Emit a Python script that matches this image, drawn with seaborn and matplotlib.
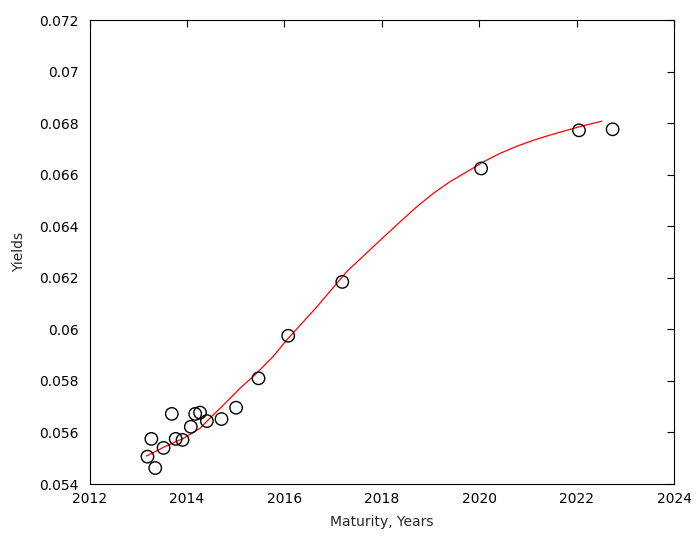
import matplotlib
matplotlib.use("Agg")
import matplotlib.pyplot as plt
import seaborn as sns
import pandas as pd

# Observed yields (maturity in years, yield)
maturity = [2013.19, 2013.27, 2013.35, 2013.52, 2013.69, 2013.77, 2013.91,
            2014.08, 2014.17, 2014.27, 2014.41, 2014.71, 2015.01, 2015.47,
            2016.08, 2017.19, 2020.04, 2022.05, 2022.74]
yields = [0.05506, 0.05575, 0.05462, 0.05540, 0.05672, 0.05575, 0.05571,
          0.05622, 0.05672, 0.05677, 0.05644, 0.05652, 0.05696, 0.05810,
          0.05975, 0.06184, 0.06624, 0.06772, 0.06776]

# Fitted curve
fit_x = [2013.17, 2013.52, 2013.93, 2014.27, 2014.47, 2014.75, 2015.09,
         2015.43, 2015.77, 2016.05, 2016.67, 2017.28, 2017.90, 2018.38,
         2018.72, 2019.06, 2019.40, 2019.75, 2020.09, 2020.43, 2020.77,
         2021.11, 2021.46, 2021.80, 2022.14, 2022.52]
fit_y = [0.055086, 0.055424, 0.055773, 0.056161, 0.056549, 0.057064,
         0.057712, 0.058294, 0.058946, 0.059586, 0.060877, 0.062235,
         0.063337, 0.064175, 0.064756, 0.065276, 0.065726, 0.066114,
         0.066502, 0.066828, 0.067100, 0.067332, 0.067538, 0.067724,
         0.067898, 0.068077]

xticks = [2012, 2014, 2016, 2018, 2020, 2022, 2024]
yticks = [0.054, 0.056, 0.058, 0.06, 0.062, 0.064, 0.066, 0.068, 0.07, 0.072]
ytick_labels = ["0.054", "0.056", "0.058", "0.06", "0.062", "0.064",
                "0.066", "0.068", "0.07", "0.072"]

sns.set_style("white")
plt.rcParams['font.family'] = ['DejaVu Sans']

fig = plt.figure(figsize=(6.97, 5.37), dpi=100)
ax = fig.add_axes([89.5 / 697, 53 / 537, (674 - 89.5) / 697, 464 / 537])

obs = pd.DataFrame({"x": maturity, "y": yields})
fit = pd.DataFrame({"x": fit_x, "y": fit_y})

sns.lineplot(data=fit, x="x", y="y", color="red", linewidth=0.9, sort=False,
             ax=ax, zorder=2)
sns.scatterplot(data=obs, x="x", y="y", marker="o", s=80, facecolor="none",
                edgecolor="black", linewidth=1.0, ax=ax, zorder=3)

ax.set_xlim(2012, 2024)
ax.set_ylim(0.054, 0.072)
ax.set_xticks(xticks)
ax.set_xticklabels([str(t) for t in xticks])
ax.set_yticks(yticks)
ax.set_yticklabels(ytick_labels)
ax.tick_params(direction="in", length=5, width=0.8, top=True, right=True,
               labelsize=10, colors="black")
ax.tick_params(axis="x", pad=6)
ax.tick_params(axis="y", pad=8)
for sp in ax.spines.values():
    sp.set_visible(True)
    sp.set_color("black")
    sp.set_linewidth(0.8)

ax.set_xlabel("Maturity, Years", fontsize=10, labelpad=6)
ax.set_ylabel("Yields", fontsize=10, labelpad=9)

fig.savefig("out.png", dpi=100)
